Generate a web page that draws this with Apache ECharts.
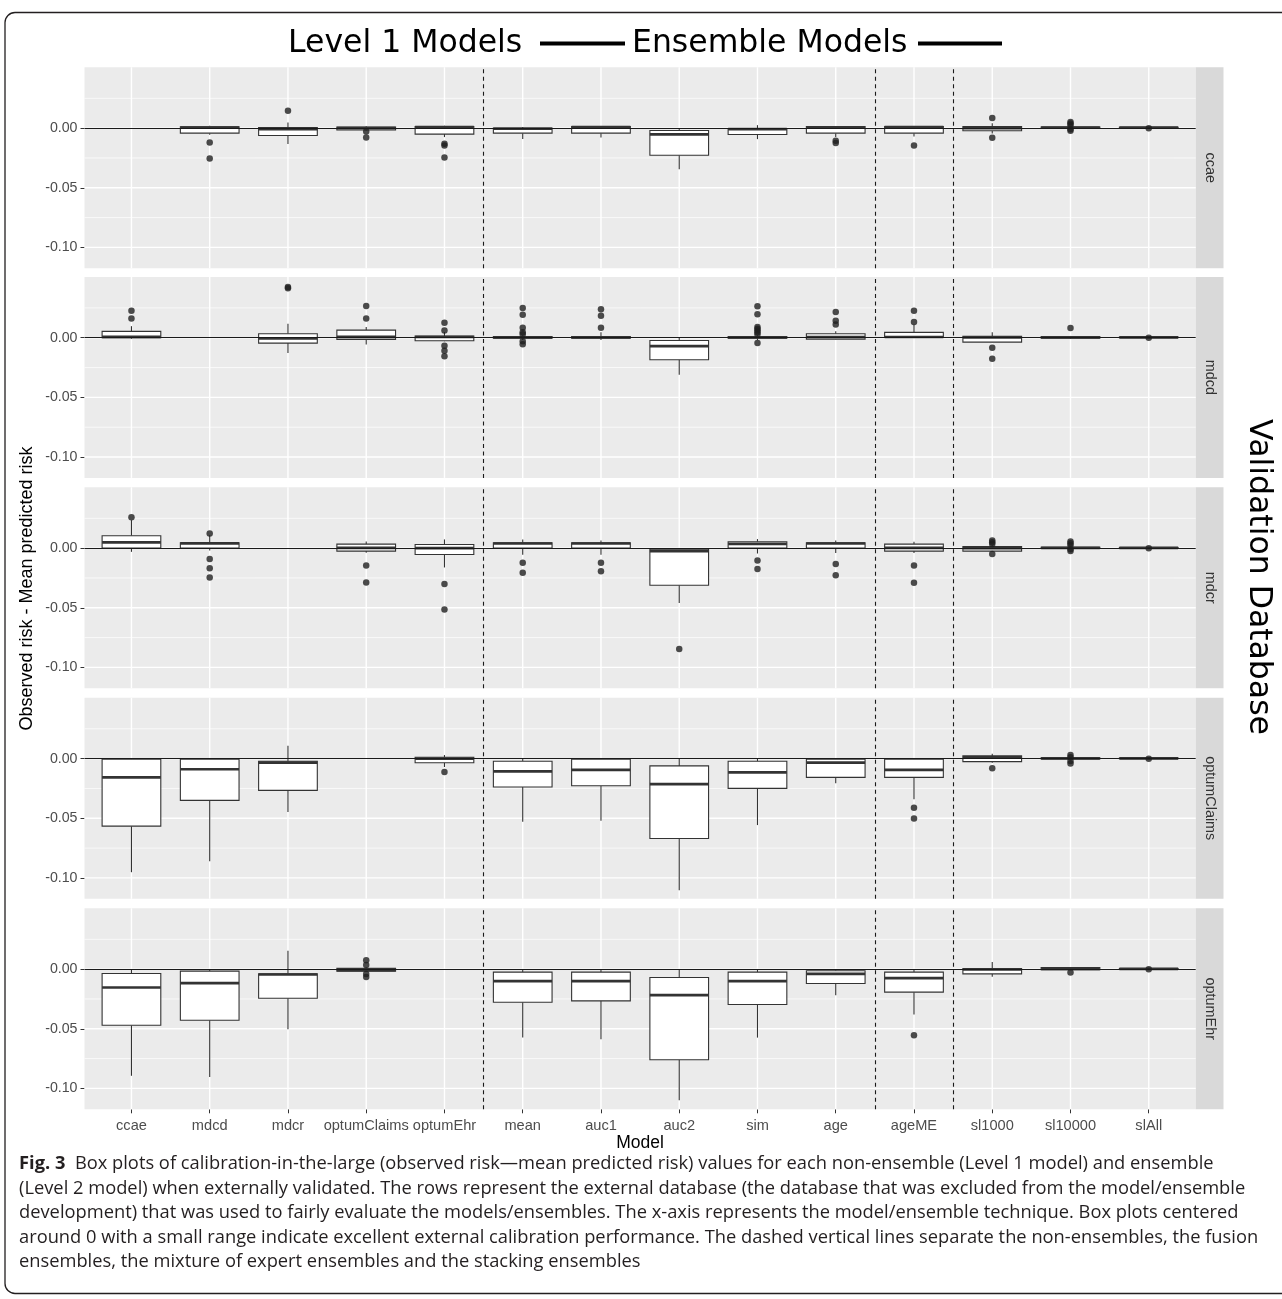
<!DOCTYPE html>
<html><head><meta charset="utf-8">
<script src="https://cdn.jsdelivr.net/npm/echarts@6/dist/echarts.min.js"></script>
<style>html,body{margin:0;padding:0;background:#fff}#c{width:1282px;height:1299px}</style>
</head><body><div id="c"></div><script>
// ---------------- data ----------------
const categories = ['ccae','mdcd','mdcr','optumClaims','optumEhr','mean','auc1','auc2','sim','age','ageME','sl1000','sl10000','slAll'];
const databases = ['ccae','mdcd','mdcr','optumClaims','optumEhr'];
const yTicks = [-0.10, -0.05, 0.00];
const yMinorGrid = [-0.075, -0.025, 0.025];
const separators = [4.5, 9.5, 10.5];
const titleLeft = 'Level 1 Models';
const titleRight = 'Ensemble Models';
const yTitle = 'Observed risk - Mean predicted risk';
const xTitle = 'Model';
const facetTitle = 'Validation Database';
const captionLabel = 'Fig. 3';
const captionLines = [
  'Box plots of calibration-in-the-large (observed risk\u2014mean predicted risk) values for each non-ensemble (Level 1 model) and ensemble',
  '(Level 2 model) when externally validated. The rows represent the external database (the database that was excluded from the model/ensemble',
  'development) that was used to fairly evaluate the models/ensembles. The x-axis represents the model/ensemble technique. Box plots centered',
  'around 0 with a small range indicate excellent external calibration performance. The dashed vertical lines separate the non-ensembles, the fusion',
  'ensembles, the mixture of expert ensembles and the stacking ensembles'
];

// box stats per category: [lower whisker, Q1, median, Q3, upper whisker]; null = not validated
const ccaeStats = [
  null,
  [-0.0055, -0.0042, 0.0005, 0.0012, 0.0020],
  [-0.0132, -0.0062, -0.0009, 0.0005, 0.0047],
  [-0.0020, -0.0015, 0.0000, 0.0010, 0.0015],
  [-0.0075, -0.0050, 0.0008, 0.0013, 0.0020],
  [-0.0092, -0.0042, -0.0005, 0.0000, 0.0010],
  [-0.0078, -0.0042, 0.0008, 0.0014, 0.0015],
  [-0.0345, -0.0227, -0.0052, -0.0020, 0.0000],
  [-0.0092, -0.0053, -0.0008, -0.0003, 0.0025],
  [-0.0075, -0.0042, 0.0006, 0.0014, 0.0015],
  [-0.0070, -0.0042, 0.0008, 0.0014, 0.0015],
  [-0.0045, -0.0022, 0.0000, 0.0014, 0.0040],
  [-0.0005, -0.0002, 0.0004, 0.0010, 0.0015],
  [0.0000, 0.0002, 0.0005, 0.0008, 0.0010]
];
const ccaeOutliers = [
  ['mdcd', -0.0120], ['mdcd', -0.0255], ['mdcr', 0.0145], ['optumClaims', -0.0028], ['optumClaims', -0.0079],
  ['optumEhr', -0.0130], ['optumEhr', -0.0146], ['optumEhr', -0.0247], ['age', -0.0105], ['age', -0.0125],
  ['ageME', -0.0146], ['sl1000', 0.0084], ['sl1000', -0.0081],
  ['sl10000', 0.0052], ['sl10000', 0.0038], ['sl10000', 0.0025], ['sl10000', -0.0010], ['sl10000', -0.0022],
  ['slAll', 0.0000]
];

const mdcdStats = [
  [-0.0008, 0.0000, 0.0008, 0.0053, 0.0097],
  null,
  [-0.0129, -0.0045, -0.0006, 0.0034, 0.0118],
  [-0.0056, -0.0014, 0.0008, 0.0064, 0.0089],
  [-0.0030, -0.0025, 0.0006, 0.0014, 0.0047],
  [-0.0020, -0.0003, 0.0003, 0.0010, 0.0020],
  [-0.0020, -0.0003, 0.0003, 0.0010, 0.0047],
  [-0.0311, -0.0185, -0.0071, -0.0023, 0.0000],
  [-0.0020, -0.0003, 0.0003, 0.0010, 0.0020],
  [-0.0015, -0.0012, 0.0006, 0.0034, 0.0055],
  [0.0000, 0.0003, 0.0006, 0.0045, 0.0112],
  [-0.0040, -0.0037, 0.0003, 0.0011, 0.0045],
  [-0.0010, -0.0003, 0.0003, 0.0010, 0.0015],
  [-0.0003, 0.0000, 0.0003, 0.0006, 0.0008]
];
const mdcdOutliers = [
  ['ccae', 0.0227], ['ccae', 0.0162], ['mdcr', 0.0415], ['mdcr', 0.0425],
  ['optumClaims', 0.0266], ['optumClaims', 0.0162],
  ['optumEhr', 0.0126], ['optumEhr', 0.0061], ['optumEhr', -0.0067], ['optumEhr', -0.0109], ['optumEhr', -0.0155],
  ['mean', 0.0249], ['mean', 0.0193], ['mean', 0.0084], ['mean', 0.0047], ['mean', 0.0030], ['mean', -0.0030], ['mean', -0.0054],
  ['auc1', 0.0238], ['auc1', 0.0185], ['auc1', 0.0084],
  ['sim', 0.0263], ['sim', 0.0196], ['sim', 0.0089], ['sim', 0.0075], ['sim', 0.0060], ['sim', 0.0045], ['sim', 0.0030], ['sim', -0.0045],
  ['age', 0.0215], ['age', 0.0143], ['age', 0.0110],
  ['ageME', 0.0227], ['ageME', 0.0131],
  ['sl1000', -0.0084], ['sl1000', -0.0176],
  ['sl10000', 0.0081], ['slAll', 0.0000]
];

const mdcrStats = [
  [-0.0031, 0.0000, 0.0048, 0.0104, 0.0235],
  [-0.0020, 0.0000, 0.0040, 0.0045, 0.0109],
  null,
  [-0.0039, -0.0025, 0.0003, 0.0034, 0.0056],
  [-0.0162, -0.0053, 0.0000, 0.0031, 0.0073],
  [-0.0056, 0.0000, 0.0039, 0.0045, 0.0073],
  [-0.0056, 0.0000, 0.0039, 0.0045, 0.0065],
  [-0.0460, -0.0311, -0.0025, -0.0008, 0.0000],
  [-0.0045, 0.0000, 0.0036, 0.0053, 0.0076],
  [-0.0040, 0.0000, 0.0039, 0.0045, 0.0065],
  [-0.0040, -0.0025, 0.0003, 0.0034, 0.0053],
  [-0.0030, -0.0025, 0.0000, 0.0014, 0.0025],
  [-0.0005, -0.0002, 0.0003, 0.0008, 0.0015],
  [-0.0002, 0.0000, 0.0003, 0.0005, 0.0008]
];
const mdcrOutliers = [
  ['ccae', 0.0258], ['mdcd', 0.0123], ['mdcd', -0.0092], ['mdcd', -0.0168], ['mdcd', -0.0246],
  ['optumClaims', -0.0146], ['optumClaims', -0.0288],
  ['optumEhr', -0.0300], ['optumEhr', -0.0515],
  ['mean', -0.0123], ['mean', -0.0207], ['auc1', -0.0123], ['auc1', -0.0193],
  ['auc2', -0.0846], ['sim', -0.0103], ['sim', -0.0174],
  ['age', -0.0132], ['age', -0.0227], ['ageME', -0.0146], ['ageME', -0.0291],
  ['sl1000', 0.0065], ['sl1000', 0.0050], ['sl1000', 0.0035], ['sl1000', -0.0050],
  ['sl10000', 0.0055], ['sl10000', 0.0040], ['sl10000', 0.0025], ['sl10000', -0.0010], ['sl10000', -0.0025],
  ['slAll', 0.0000]
];

const optumClaimsStats = [
  [-0.0952, -0.0566, -0.0157, -0.0005, 0.0002],
  [-0.0860, -0.0350, -0.0089, -0.0005, 0.0003],
  [-0.0448, -0.0266, -0.0034, -0.0022, 0.0107],
  null,
  [-0.0070, -0.0034, 0.0000, 0.0012, 0.0030],
  [-0.0529, -0.0238, -0.0106, -0.0022, 0.0000],
  [-0.0521, -0.0227, -0.0095, -0.0005, 0.0000],
  [-0.1103, -0.0669, -0.0213, -0.0061, 0.0000],
  [-0.0557, -0.0249, -0.0115, -0.0022, 0.0000],
  [-0.0207, -0.0157, -0.0034, -0.0005, 0.0006],
  [-0.0341, -0.0157, -0.0095, -0.0005, 0.0000],
  [-0.0035, -0.0025, 0.0010, 0.0023, 0.0040],
  [-0.0008, -0.0003, 0.0003, 0.0008, 0.0012],
  [-0.0002, 0.0000, 0.0003, 0.0005, 0.0008]
];
const optumClaimsOutliers = [
  ['optumEhr', -0.0112], ['ageME', -0.0412], ['ageME', -0.0501], ['sl1000', -0.0081],
  ['sl10000', 0.0030], ['sl10000', 0.0012], ['sl10000', -0.0020], ['sl10000', -0.0040],
  ['slAll', 0.0000]
];

const optumEhrStats = [
  [-0.0894, -0.0471, -0.0154, -0.0037, 0.0000],
  [-0.0905, -0.0429, -0.0118, -0.0017, 0.0000],
  [-0.0504, -0.0244, -0.0045, -0.0039, 0.0154],
  [-0.0025, -0.0017, -0.0008, 0.0006, 0.0015],
  null,
  [-0.0574, -0.0277, -0.0101, -0.0025, 0.0000],
  [-0.0588, -0.0266, -0.0101, -0.0025, 0.0000],
  [-0.1100, -0.0760, -0.0218, -0.0070, 0.0000],
  [-0.0574, -0.0296, -0.0101, -0.0025, 0.0000],
  [-0.0218, -0.0121, -0.0040, -0.0014, 0.0000],
  [-0.0381, -0.0193, -0.0076, -0.0025, 0.0000],
  [-0.0064, -0.0040, -0.0003, 0.0005, 0.0059],
  [-0.0008, -0.0005, 0.0003, 0.0014, 0.0016],
  [-0.0002, 0.0000, 0.0003, 0.0005, 0.0008]
];
const optumEhrOutliers = [
  ['optumClaims', 0.0075], ['optumClaims', 0.0035], ['optumClaims', -0.0040], ['optumClaims', -0.0065],
  ['ageME', -0.0555], ['sl10000', -0.0028], ['slAll', 0.0000]
];

const panelStats = [ccaeStats, mdcdStats, mdcrStats, optumClaimsStats, optumEhrStats];
const panelOutliers = [ccaeOutliers, mdcdOutliers, mdcrOutliers, optumClaimsOutliers, optumEhrOutliers];

// ---------------- layout & style ----------------
const PANEL_LEFT = 84.5, PANEL_WIDTH = 1111.2, PANEL_HEIGHT = 201;
const PANEL_TOPS = [67.3, 276.9, 487.3, 697.8, 908.3];
const STRIP_WIDTH = 27.8;
const X_MIN = -0.6, X_MAX = 13.6, Y_MIN = -0.1175, Y_MAX = 0.051;
const BOX_HALF = 0.375;
const AXIS_FONT = '"Liberation Sans", Arial, sans-serif';
const TITLE_FONT = '"DejaVu Sans", sans-serif';
const CAPTION_FONT = '"Open Sans", "Noto Sans", sans-serif';
const INK = '#333333';

const catIndex = {};
categories.forEach((c, i) => { catIndex[c] = i; });

function renderGridLines(params, api) {
  const cs = params.coordSys;
  const children = [];
  yMinorGrid.forEach(v => {
    const y = api.coord([0, v])[1];
    children.push({type: 'line', shape: {x1: cs.x, y1: y, x2: cs.x + cs.width, y2: y}, style: {stroke: '#ffffff', lineWidth: 0.7}});
  });
  yTicks.forEach(v => {
    const y = api.coord([0, v])[1];
    children.push({type: 'line', shape: {x1: cs.x, y1: y, x2: cs.x + cs.width, y2: y}, style: {stroke: '#ffffff', lineWidth: 1.4}});
  });
  categories.forEach((c, i) => {
    const x = api.coord([i, 0])[0];
    children.push({type: 'line', shape: {x1: x, y1: cs.y, x2: x, y2: cs.y + cs.height}, style: {stroke: '#ffffff', lineWidth: 1.4}});
  });
  return {type: 'group', children};
}

function renderBox(params, api) {
  const i = api.value(0);
  const lo = api.value(1), q1 = api.value(2), med = api.value(3), q3 = api.value(4), hi = api.value(5);
  const xc = api.coord([i, 0])[0];
  const xl = api.coord([i - BOX_HALF, 0])[0];
  const xr = api.coord([i + BOX_HALF, 0])[0];
  const yLo = api.coord([i, lo])[1], yQ1 = api.coord([i, q1])[1], yMed = api.coord([i, med])[1];
  const yQ3 = api.coord([i, q3])[1], yHi = api.coord([i, hi])[1];
  return {type: 'group', children: [
    {type: 'line', shape: {x1: xc, y1: yHi, x2: xc, y2: yQ3}, style: {stroke: INK, lineWidth: 1.1}},
    {type: 'line', shape: {x1: xc, y1: yQ1, x2: xc, y2: yLo}, style: {stroke: INK, lineWidth: 1.1}},
    {type: 'rect', shape: {x: xl, y: yQ3, width: xr - xl, height: yQ1 - yQ3}, style: {fill: '#ffffff', stroke: INK, lineWidth: 1.1}},
    {type: 'line', shape: {x1: xl, y1: yMed, x2: xr, y2: yMed}, style: {stroke: INK, lineWidth: 2.7}}
  ]};
}

const grids = [], xAxes = [], yAxes = [], series = [], graphics = [];
const catIdx = categories.map((c, i) => i);

databases.forEach((db, k) => {
  const last = k === databases.length - 1;
  grids.push({left: PANEL_LEFT, top: PANEL_TOPS[k], width: PANEL_WIDTH, height: PANEL_HEIGHT,
    show: true, backgroundColor: '#ebebeb', borderWidth: 0});
  xAxes.push({
    gridIndex: k, type: 'value', min: X_MIN, max: X_MAX, position: 'bottom',
    splitLine: {show: false}, axisLine: {show: false, onZero: false},
    axisTick: {show: last, customValues: catIdx, length: 4, lineStyle: {color: INK, width: 1}},
    axisLabel: {show: last, customValues: catIdx, formatter: v => categories[Math.round(v)],
      color: '#4d4d4d', fontSize: 14.6, fontFamily: AXIS_FONT, margin: 9},
    name: last ? xTitle : '', nameLocation: 'middle', nameGap: 25,
    nameTextStyle: {fontSize: 17.5, color: '#000', fontFamily: AXIS_FONT}
  });
  yAxes.push({
    gridIndex: k, type: 'value', min: Y_MIN, max: Y_MAX, position: 'left',
    splitLine: {show: false}, axisLine: {show: false, onZero: false},
    axisTick: {show: true, customValues: yTicks, length: 4, lineStyle: {color: INK, width: 1}},
    axisLabel: {customValues: yTicks, formatter: v => v.toFixed(2), color: '#4d4d4d',
      fontSize: 14.2, fontFamily: AXIS_FONT, margin: 7}
  });
  series.push({
    type: 'custom', xAxisIndex: k, yAxisIndex: k, z: 1, silent: true,
    renderItem: renderGridLines, data: [[0, 0]], encode: {x: 0, y: 1}
  });
  const boxData = panelStats[k].map((s, i) => s ? [i].concat(s) : null).filter(Boolean);
  series.push({
    type: 'custom', xAxisIndex: k, yAxisIndex: k, z: 2, silent: true,
    renderItem: renderBox, data: boxData, encode: {x: 0, y: [1, 2, 3, 4, 5]}
  });
  series.push({
    type: 'scatter', xAxisIndex: k, yAxisIndex: k, z: 3, silent: true,
    symbolSize: 6.5, itemStyle: {color: '#1f1f1f'},
    data: panelOutliers[k].map(p => [catIndex[p[0]], p[1]]),
    markLine: {
      silent: true, symbol: 'none', label: {show: false}, animation: false,
      data: [{yAxis: 0, lineStyle: {type: 'solid', color: '#1a1a1a', width: 1.2}}]
        .concat(separators.map(s => ({xAxis: s, lineStyle: {type: [4, 3.5], color: '#1a1a1a', width: 1.1}})))
    }
  });
  // facet strip
  graphics.push({type: 'rect', silent: true, shape: {x: PANEL_LEFT + PANEL_WIDTH, y: PANEL_TOPS[k], width: STRIP_WIDTH, height: PANEL_HEIGHT},
    style: {fill: '#d9d9d9'}});
  graphics.push({type: 'text', silent: true, x: PANEL_LEFT + PANEL_WIDTH + STRIP_WIDTH / 2, y: PANEL_TOPS[k] + PANEL_HEIGHT / 2,
    rotation: -Math.PI / 2,
    style: {text: db, align: 'center', verticalAlign: 'middle', fill: '#333333', font: '14.4px ' + AXIS_FONT}});
});

// caption font size fitted to the reference line ends
const CAPTION_X = 19;
const CAPTION_ENDS = [1183, 1262, 1248, 1262];
const mctx = document.createElement('canvas').getContext('2d');
mctx.font = '100px ' + CAPTION_FONT;
let fitSum = 0;
CAPTION_ENDS.forEach((end, i) => {
  const t = i === 0 ? captionLabel + '  ' + captionLines[0] : captionLines[i];
  fitSum += 100 * (end - CAPTION_X) / mctx.measureText(t).width;
});
const captionSize = fitSum / CAPTION_ENDS.length;
const CAPTION_Y = [1164, 1188.5, 1213, 1237.5, 1262];

// frame
graphics.push({type: 'rect', silent: true, shape: {x: 5, y: 12.5, width: 1300, height: 1281, r: 10},
  style: {fill: null, stroke: '#231f20', lineWidth: 1.3}});
// top title
graphics.push({type: 'text', silent: true, x: 288, y: 43.5, style: {text: titleLeft, align: 'left', verticalAlign: 'middle', fill: '#000', font: '31.5px ' + TITLE_FONT}});
graphics.push({type: 'line', silent: true, shape: {x1: 540, y1: 43.5, x2: 625, y2: 43.5}, style: {stroke: '#000', lineWidth: 4}});
graphics.push({type: 'text', silent: true, x: 632, y: 43.5, style: {text: titleRight, align: 'left', verticalAlign: 'middle', fill: '#000', font: '31.5px ' + TITLE_FONT}});
graphics.push({type: 'line', silent: true, shape: {x1: 918, y1: 43.5, x2: 1002, y2: 43.5}, style: {stroke: '#000', lineWidth: 4}});
// right facet title
graphics.push({type: 'text', silent: true, x: 1258, y: 577, rotation: -Math.PI / 2,
  style: {text: facetTitle, align: 'center', verticalAlign: 'middle', fill: '#000', font: '31.5px ' + TITLE_FONT}});
// y axis title
graphics.push({type: 'text', silent: true, x: 27, y: 588.5, rotation: Math.PI / 2,
  style: {text: yTitle, align: 'center', verticalAlign: 'middle', fill: '#000', font: '18px ' + AXIS_FONT}});
// caption
captionLines.forEach((line, i) => {
  const txt = i === 0 ? '{b|' + captionLabel + '}  ' + line : line;
  graphics.push({type: 'text', silent: true, x: CAPTION_X, y: CAPTION_Y[i],
    style: {text: txt, align: 'left', verticalAlign: 'middle', fill: '#231f20',
      font: captionSize.toFixed(2) + 'px ' + CAPTION_FONT,
      rich: {b: {fontWeight: 'bold', fontSize: captionSize, fontFamily: CAPTION_FONT, fill: '#231f20'}}}});
});

const chart = echarts.init(document.getElementById('c'), null, {renderer: 'canvas'});
chart.setOption({
  animation: false,
  backgroundColor: '#ffffff',
  grid: grids, xAxis: xAxes, yAxis: yAxes, series: series,
  graphic: {elements: graphics}
});
</script></body></html>
